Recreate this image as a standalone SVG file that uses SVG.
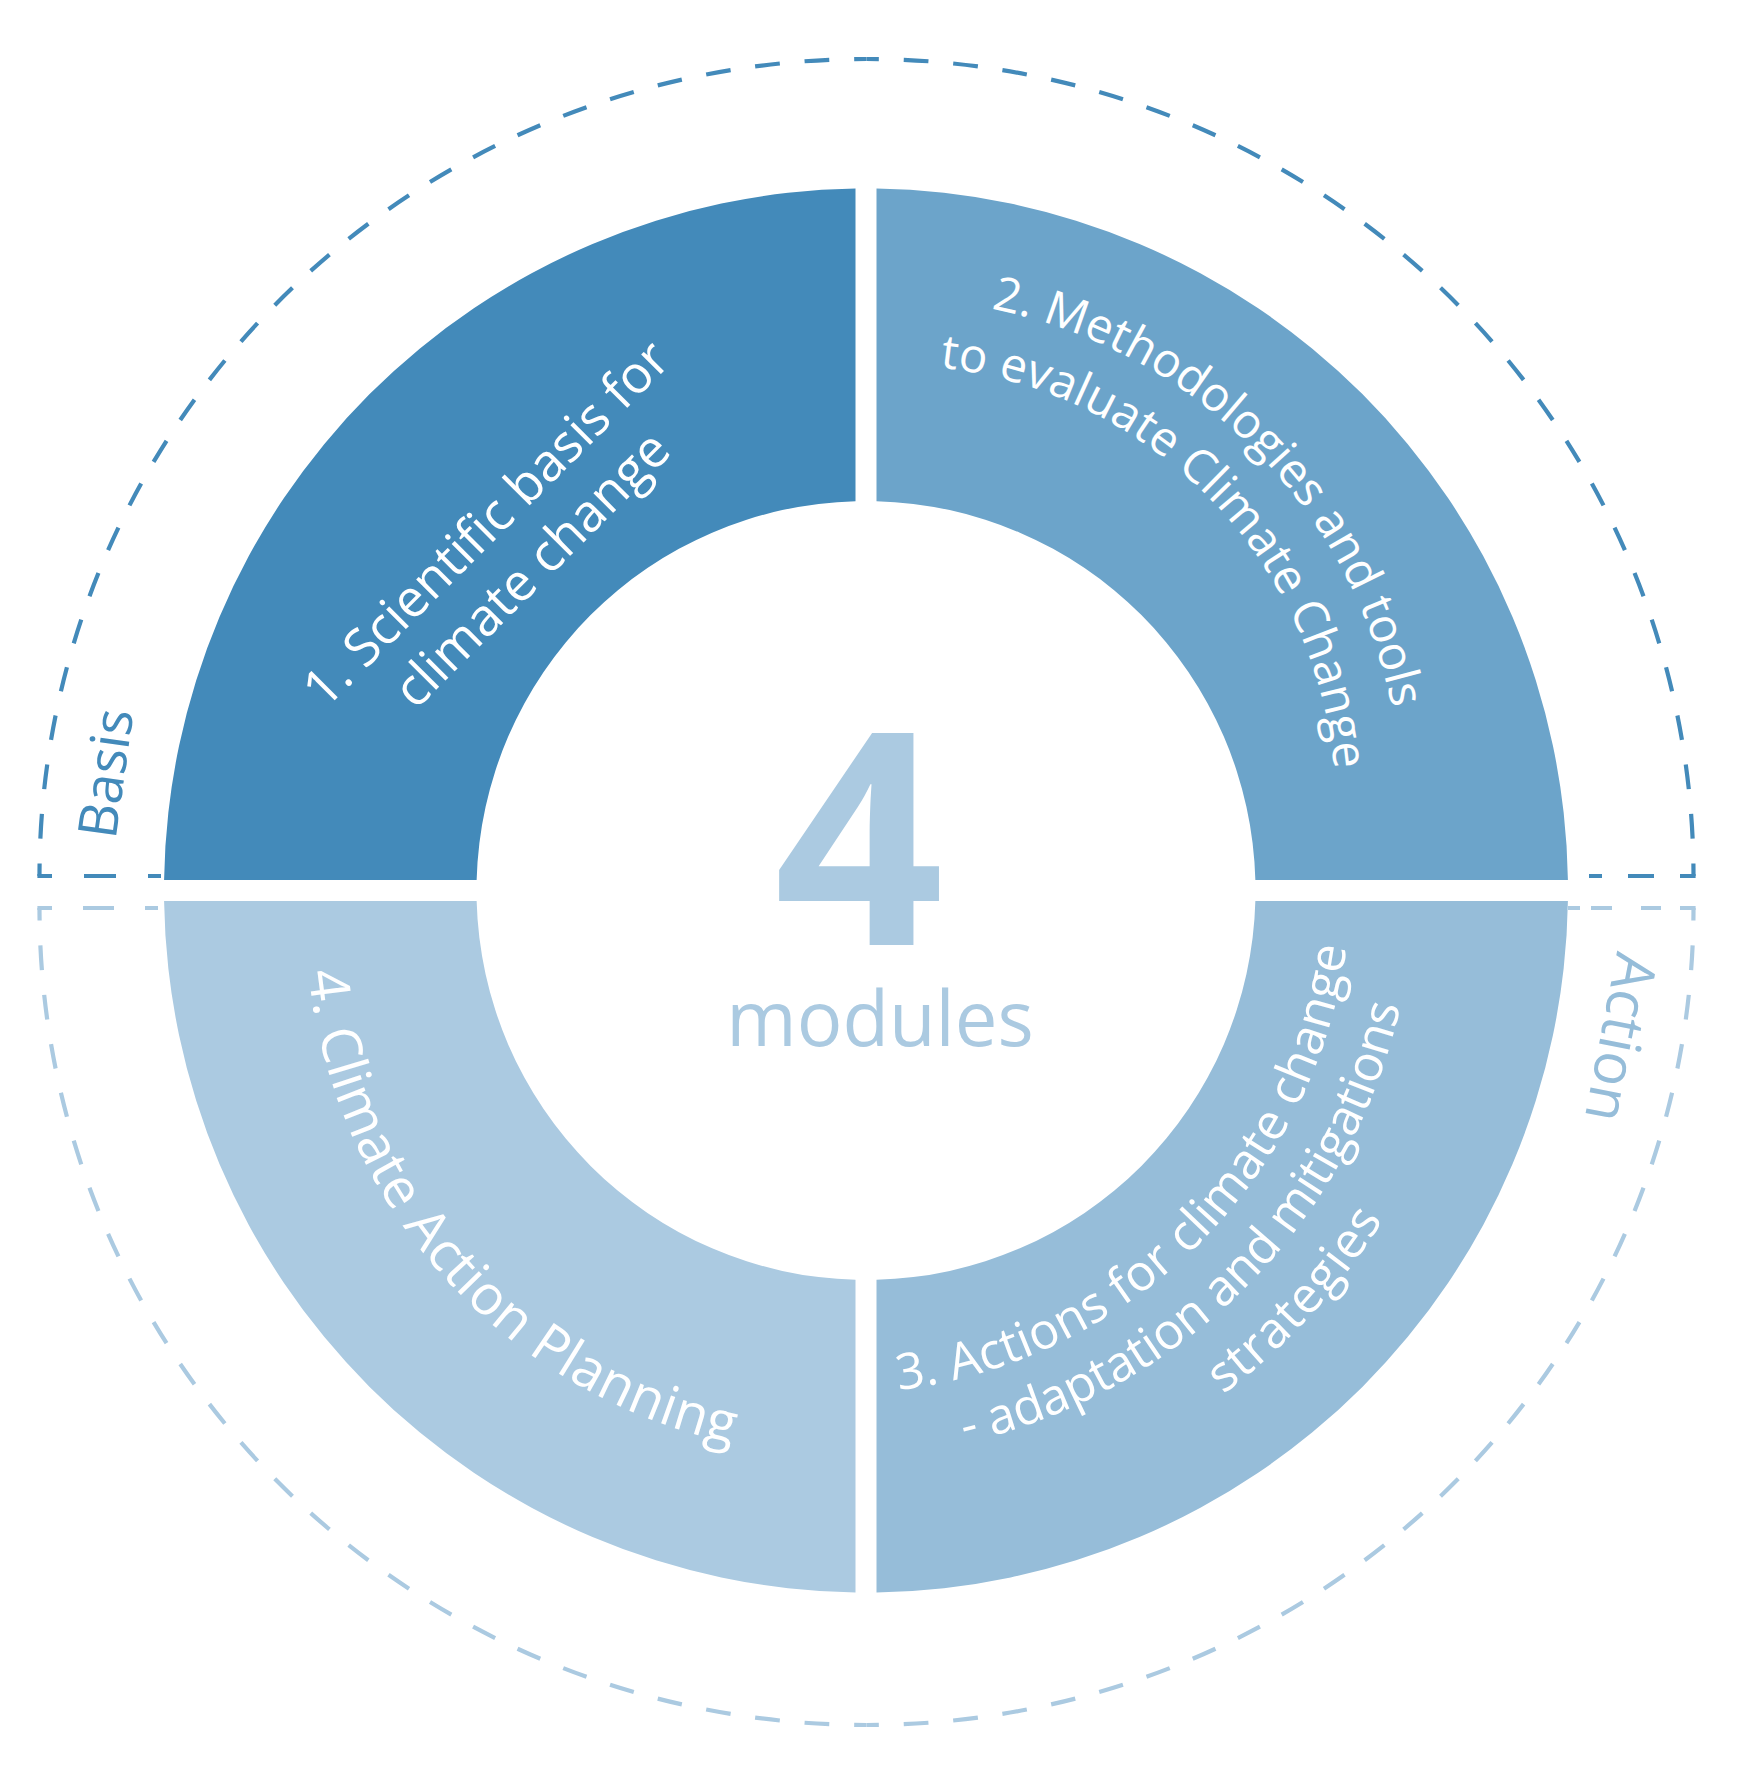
<svg xmlns="http://www.w3.org/2000/svg" xmlns:xlink="http://www.w3.org/1999/xlink" width="1757" height="1789" viewBox="0 0 1757 1789">
<style>
.lbl{font-family:"Open Sans","Liberation Sans",sans-serif;fill:#ffffff;font-weight:400}
.dash{fill:none;stroke-width:4.2;stroke-dasharray:24.8 24.85;stroke-dashoffset:12.4}
.seg{fill:none;stroke-width:4.2}
.top{stroke:#438ABA}
.bot{stroke:#ABCAE1}
.side{font-family:"Open Sans","Liberation Sans",sans-serif;font-weight:400}
</style>
<defs>
<path id="p2a" d="M 563.5 418.9 A 510 510 0 0 1 1283.3 1136.1"/>
<path id="p2b" d="M 609.8 466.2 A 444 444 0 0 1 1229.4 1097.6"/>
<path id="p3a" d="M 501.3 1271.6 A 516 516 0 0 0 1232.0 548.4"/>
<path id="p3b" d="M 463.0 1323.0 A 580 580 0 0 0 1278.6 504.4"/>
<path id="p3c" d="M 441.7 1390.5 A 646 646 0 0 0 1311.3 441.6"/>
<path id="p4" d="M 450.7 549.8 A 538 538 0 0 0 1166.5 1347.6"/>
</defs>
<rect width="1757" height="1789" fill="#ffffff"/>
<g id="outline">
<path class="dash top" d="M 866.5 59 A 826.75 817 0 0 0 39.5 876"/>
<path class="dash top" d="M 866.5 59 A 826.75 817 0 0 1 1693.5 876"/>
<path class="seg top" d="M 37.4 876 H 52 M 84 876 H 116 M 148 876 H 161 M 1589 876 H 1602 M 1628 876 H 1654 M 1680 876 H 1695.6"/>
<path class="dash bot" d="M 866.5 1725 A 826.75 817 0 0 1 39.5 908"/>
<path class="dash bot" d="M 866.5 1725 A 826.75 817 0 0 0 1693.5 908"/>
<path class="seg bot" d="M 37.4 908 H 52 M 83 908 H 114 M 145 908 H 158 M 1568 908 H 1580 M 1591 908 H 1612 M 1641 908 H 1661 M 1680 908 H 1695.6"/>
<text class="side" fill="#438ABA" font-size="54" text-anchor="middle" transform="translate(124.5,776) rotate(-82)">Basis</text>
<text class="side" fill="#96BDD9" font-size="58" text-anchor="middle" transform="translate(1601,1034) rotate(101)">Action</text>
</g>
<g id="seg1">
<path fill="#438ABA" d="M 855.5 188.58 L 855.5 501.14 A 389.5 389.5 0 0 0 476.64 880 L 164.08 880 A 702 702 0 0 1 855.5 188.58 Z"/>
<text class="lbl" font-size="52" text-anchor="middle" transform="translate(498.75,536.25) rotate(-45)"><tspan x="0" y="0">1. Scientific basis for</tspan><tspan x="0" y="64.4">climate change</tspan></text>
</g>
<g id="seg2">
<path fill="#6CA4CA" d="M 876.5 188.58 A 702 702 0 0 1 1567.92 880 L 1255.36 880 A 389.5 389.5 0 0 0 876.5 501.14 Z"/>
<text class="lbl" font-size="47.5" text-anchor="middle"><textPath href="#p2a" xlink:href="#p2a" startOffset="50%" textLength="600">2. Methodologies and tools</textPath></text>
<text class="lbl" font-size="47.5" text-anchor="middle"><textPath href="#p2b" xlink:href="#p2b" startOffset="50%" textLength="610">to evaluate Climate Change</textPath></text>
</g>
<g id="seg3">
<path fill="#96BDD9" d="M 1567.92 901 A 702 702 0 0 1 876.5 1592.42 L 876.5 1279.86 A 389.5 389.5 0 0 0 1255.36 901 Z"/>
<text class="lbl" font-size="50" text-anchor="middle"><textPath href="#p3a" xlink:href="#p3a" startOffset="50%" textLength="678">3. Actions for climate change</textPath></text>
<text class="lbl" font-size="50" text-anchor="middle"><textPath href="#p3b" xlink:href="#p3b" startOffset="50%" textLength="651">- adaptation and mitigations</textPath></text>
<text class="lbl" font-size="50" text-anchor="middle"><textPath href="#p3c" xlink:href="#p3c" startOffset="50%" textLength="238">strategies</textPath></text>
</g>
<g id="seg4">
<path fill="#ABCAE1" d="M 855.5 1592.42 A 702 702 0 0 1 164.08 901 L 476.64 901 A 389.5 389.5 0 0 0 855.5 1279.86 Z"/>
<text class="lbl" font-size="55" text-anchor="middle"><textPath href="#p4" xlink:href="#p4" startOffset="50%" textLength="678">4. Climate Action Planning</textPath></text>
</g>
<g id="center">
<text font-family="'Open Sans','Liberation Sans',sans-serif" font-weight="700" font-size="297" fill="#ABCAE1" text-anchor="middle" x="859" y="945">4</text>
<text font-family="'Open Sans','Liberation Sans',sans-serif" font-weight="500" font-size="76" fill="#ABCAE1" text-anchor="middle" x="880" y="1045.7">modules</text>
</g>
</svg>
